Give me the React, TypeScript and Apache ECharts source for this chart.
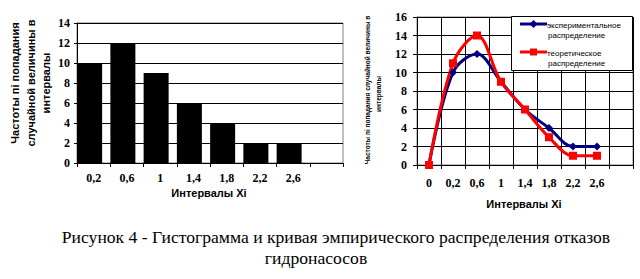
import React, { useEffect, useRef } from "react";
import * as echarts from "echarts";

// Left histogram
const histCategories = ["0,2", "0,6", "1", "1,4", "1,8", "2,2", "2,6", ""];
const histValues = [10, 12, 9, 6, 4, 2, 2, null];

// Right curves
const curveCategories = ["0", "0,2", "0,6", "1", "1,4", "1,8", "2,2", "2,6", ""];
const empiricalValues = [0, 10, 12, 9, 6, 4, 2, 2, null];
const theoreticalValues = [0, 11, 14, 9, 6, 3, 1, 1, null];
const seriesNames = ["экспериментальное распределение", "теоретическое распределение"];

const leftYTitle = ["Частоты пі попадания", "случайной величины в", "интервалы"];
const rightYTitle = ["Частоты пі попадания случайной величины в", "интервалы"];
const xTitle = "Интервалы Xi";
const captionLines = [
  "Рисунок 4 - Гистограмма и кривая эмпирического распределения отказов",
  "гидронасосов",
];

const SERIF = "'Liberation Serif', 'Times New Roman', serif";
const SANS = "'Liberation Sans', Arial, sans-serif";

export default function App() {
  const ref = useRef<HTMLDivElement>(null);
  useEffect(() => {
    document.body.style.margin = "0";
    const chart = echarts.init(ref.current!, null, { renderer: "svg" });
    const tickLabel = { color: "#000", fontFamily: SERIF, fontWeight: "bold" as const, fontSize: 12 };
    const legendRows = seriesNames.map((n) => n.split(" "));
    const graphic: any[] = [];
    leftYTitle.forEach((t, i) => {
      graphic.push({
        type: "text", x: [15, 30.5, 46][i], y: 83, rotation: Math.PI / 2,
        style: { text: t, font: `bold 11px ${SANS}`, fill: "#000", align: "center", verticalAlign: "middle" },
      });
    });
    rightYTitle.forEach((t, i) => {
      graphic.push({
        type: "text", x: [367, 378][i], y: [90, 94][i], rotation: Math.PI / 2,
        style: { text: t, font: `bold 6.5px ${SANS}`, fill: "#000", align: "center", verticalAlign: "middle" },
      });
    });
    graphic.push(
      { type: "text", x: 209, y: 193, style: { text: xTitle, font: `bold 11px ${SANS}`, fill: "#000", align: "center", verticalAlign: "middle" } },
      { type: "text", x: 524, y: 204, style: { text: xTitle, font: `bold 11px ${SANS}`, fill: "#000", align: "center", verticalAlign: "middle" } },
      { type: "text", x: 336, y: 237, style: { text: captionLines[0], font: `17.6px ${SERIF}`, fill: "#000", align: "center", verticalAlign: "middle" } },
      { type: "text", x: 316, y: 258, style: { text: captionLines[1], font: `17.6px ${SERIF}`, fill: "#000", align: "center", verticalAlign: "middle" } }
    );
    // Legend box
    const colors = ["#000080", "#ff0000"];
    graphic.push({ type: "rect", z: 100, shape: { x: 511.5, y: 16.5, width: 121, height: 54 }, style: { fill: "#fff", stroke: "#000", lineWidth: 1 } });
    [24, 52].forEach((cy, i) => {
      graphic.push({ type: "line", z: 101, shape: { x1: 520, y1: cy, x2: 547, y2: cy }, style: { stroke: colors[i], lineWidth: 3 } });
      if (i === 0) {
        graphic.push({ type: "polygon", z: 102, shape: { points: [[533.5, cy - 4], [537.5, cy], [533.5, cy + 4], [529.5, cy]] }, style: { fill: colors[i] } });
      } else {
        graphic.push({ type: "rect", z: 102, shape: { x: 530, y: cy - 3.5, width: 7, height: 7 }, style: { fill: colors[i] } });
      }
      legendRows[i].forEach((w, j) => {
        graphic.push({
          type: "text", z: 102, x: 547 + j, y: cy + 1 + j * 10,
          style: { text: w, font: `8px ${SANS}`, fill: "#000", align: "left", verticalAlign: "middle" },
        });
      });
    });

    chart.setOption({
      animation: false,
      backgroundColor: "#fff",
      grid: [
        { left: 77, top: 23, width: 266, height: 140, show: true, borderColor: "#808080", borderWidth: 1, containLabel: false },
        { left: 417, top: 17, width: 216, height: 148, show: true, borderColor: "#808080", borderWidth: 1, containLabel: false },
      ],
      xAxis: [
        {
          type: "category", gridIndex: 0, data: histCategories, boundaryGap: true,
          axisLine: { lineStyle: { color: "#000", width: 1 } },
          axisTick: { show: true, inside: false, length: 4, lineStyle: { color: "#000" } },
          axisLabel: { ...tickLabel, margin: 9, interval: 0 },
          splitLine: { show: false },
        },
        {
          type: "category", gridIndex: 1, data: curveCategories, boundaryGap: true,
          axisLine: { lineStyle: { color: "#000", width: 1 } },
          axisTick: { show: true, inside: false, length: 4, lineStyle: { color: "#000" } },
          axisLabel: { ...tickLabel, margin: 12, interval: 0 },
          splitLine: { show: true, interval: 0, lineStyle: { color: "#000", width: 1 } },
        },
      ],
      yAxis: [
        {
          type: "value", gridIndex: 0, min: 0, max: 14, interval: 2,
          axisLine: { show: true, lineStyle: { color: "#000", width: 1 } },
          axisTick: { show: true, inside: false, length: 3, lineStyle: { color: "#000" } },
          axisLabel: { ...tickLabel, margin: 7 },
          splitLine: { show: true, lineStyle: { color: "#000", width: 1 } },
        },
        {
          type: "value", gridIndex: 1, min: 0, max: 16, interval: 2,
          axisLine: { show: true, lineStyle: { color: "#000", width: 1 } },
          axisTick: { show: true, inside: false, length: 4, lineStyle: { color: "#000" } },
          axisLabel: { ...tickLabel, margin: 10 },
          splitLine: { show: true, lineStyle: { color: "#000", width: 1 } },
        },
      ],
      series: [
        {
          type: "bar", xAxisIndex: 0, yAxisIndex: 0, data: histValues,
          barWidth: 25, barGap: "0%", itemStyle: { color: "#000" },
        },
        {
          type: "bar", xAxisIndex: 0, yAxisIndex: 0, data: histValues.map(() => null),
          barWidth: 8, barGap: "0%", itemStyle: { color: "transparent" }, silent: true,
        },
        {
          name: seriesNames[0], type: "line", xAxisIndex: 1, yAxisIndex: 1, data: empiricalValues,
          smooth: 0.35, symbol: "diamond", symbolSize: 8,
          lineStyle: { color: colors[0], width: 3 }, itemStyle: { color: colors[0] },
        },
        {
          name: seriesNames[1], type: "line", xAxisIndex: 1, yAxisIndex: 1, data: theoreticalValues,
          smooth: 0.35, symbol: "rect", symbolSize: 8,
          lineStyle: { color: colors[1], width: 3 }, itemStyle: { color: colors[1] },
        },
      ],
      graphic,
    });
    return () => chart.dispose();
  }, []);
  return <div ref={ref} style={{ width: 640, height: 279 }} />;
}
